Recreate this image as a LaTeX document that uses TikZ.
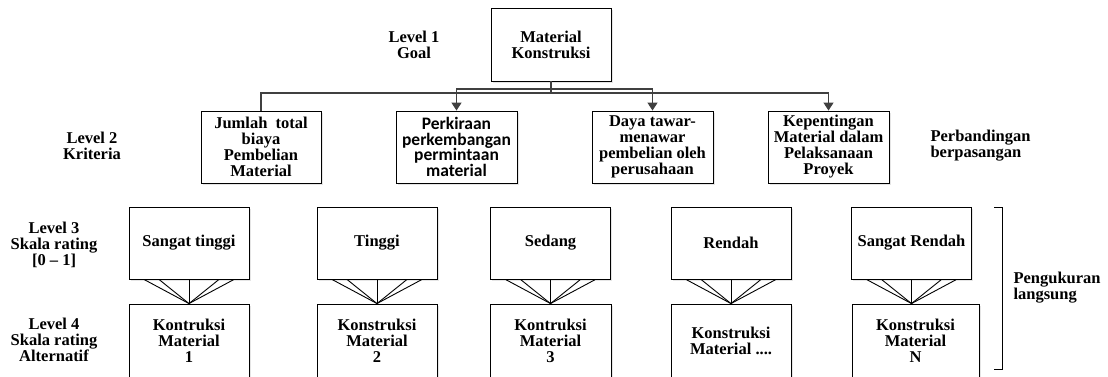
\documentclass[tikz,border=0pt]{standalone}
\usepackage{fontspec}
\setmainfont{Liberation Serif}
\newfontfamily\calibri{Carlito}
\usetikzlibrary{arrows.meta,shadows}

\begin{document}
\begin{tikzpicture}[x=1pt,y=-1pt,
    every node/.style={font=\fontsize{16.5}{16}\selectfont\bfseries},
    box/.style={draw,line width=0.9pt,fill=white,minimum width=121,
        minimum height=72,align=center,inner sep=2pt,
        drop shadow={shadow xshift=1.5pt,shadow yshift=-1.5pt,fill=black!20}},
    lbl/.style={align=center},
    link/.style={draw=black!75,line width=1.4pt},
    fan/.style={line width=0.9pt}]
\clip (0,0) rectangle (1108,376);
\node[box,minimum width=120,minimum height=73] (goal) at (551,44.5) {Material\\Konstruksi};
\node[lbl] (lv1) at (414,45) {Level 1\\Goal};
\node[lbl] (lv2) at (92,146) {Level 2\\Kriteria};
\node[lbl] (lv3) at (54,245) {Level 3\\Skala rating\\{[0 – 1]}};
\node[lbl] (lv4) at (54,340) {Level 4\\Skala rating\\Alternatif};
\node[box,minimum width=120] (k1) at (261,147) {Jumlah~ total\\biaya\\Pembelian\\Material};
\node[box,font=\fontsize{17.5}{15.6}\selectfont\calibri\bfseries]
    (k2) at (456.5,147) {Perkiraan\\perkembangan\\permintaan\\material};
\node[box] (k3) at (652.5,147) {Daya tawar-\\menawar\\pembelian oleh\\perusahaan};
\node[box] (k4) at (828.5,147) {Kepentingan\\Material dalam\\Pelaksanaan\\Proyek};
\node[lbl,anchor=west,align=left] (pb) at (927,146) {Perbandingan\\berpasangan};
\draw[link] (goal.south) -- (goal.south |- 0,93) -| (k1.north);
\draw[link,-{Triangle[length=8pt,width=10pt]}] (goal.south) -- (goal.south |- 0,89) -| (k2.north);
\draw[link,-{Triangle[length=8pt,width=10pt]}] (goal.south) -- (goal.south |- 0,89) -| (k3.north);
\draw[link,-{Triangle[length=8pt,width=10pt]}] (goal.south) -- (goal.south |- 0,93) -| (k4.north);
\foreach \x/\n/\t in {189/1/Sangat tinggi, 377/2/Tinggi, 550.5/3/Sedang,
                      731/4/Rendah, 911.5/5/Sangat Rendah}
    \node[box,minimum width=120] (s\n) at (\x,243) {\t};
\foreach \x/\w/\n/\t in {189/120/1/{Kontruksi\\Material\\1},
                         377/120/2/{Konstruksi\\Material\\2},
                         550.5/121/3/{Kontruksi\\Material\\3},
                         731/120/4/{Konstruksi\\Material ....},
                         915.5/127/5/{Konstruksi\\Material\\N}}
    \node[box,minimum width=\w,minimum height=74] (a\n) at (\x,341) {\t};
\foreach \n in {1,...,5}
    \foreach \d in {-45,-30,0,30,45}
        \draw[fan] ([xshift=\d]s\n.south) -- (s\n.south |- a\n.north);
\draw[line width=0.9pt] (994,207) -- (1002,207) -- (1002,369) -- (994,369);
\node[lbl,anchor=west,align=left] (pl) at (1010,288) {Pengukuran\\langsung};
\end{tikzpicture}
\end{document}
